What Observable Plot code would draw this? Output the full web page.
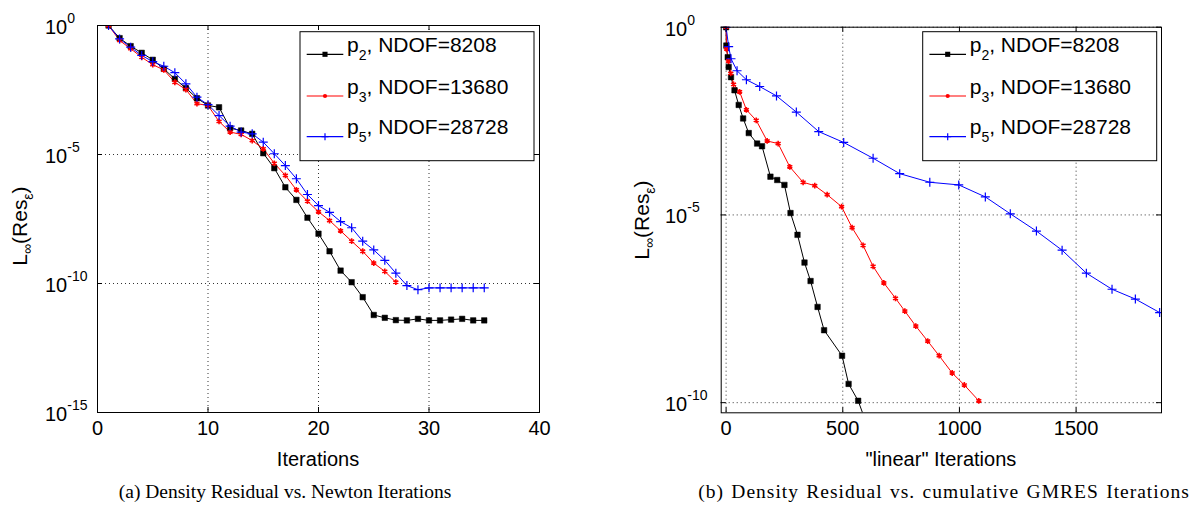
<!DOCTYPE html>
<html><head><meta charset="utf-8">
<script src="https://cdn.jsdelivr.net/npm/d3@7"></script>
<script src="https://cdn.jsdelivr.net/npm/@observablehq/plot@0.6"></script>
<style>
body{margin:0;background:#fff;}
#wrap{position:relative;width:1191px;height:517px;overflow:hidden;background:#fff;font-family:"Liberation Sans",Arial,sans-serif;}
.panel{position:absolute;top:0;}
.cap{position:absolute;top:482px;font-family:"Liberation Serif","Times New Roman",serif;font-size:19.5px;line-height:20px;white-space:nowrap;transform:translateX(-50%);color:#000;}
</style></head><body>
<div id="wrap">
<div id="pa" class="panel" style="left:0px"></div>
<div id="pb" class="panel" style="left:595px"></div>
<div class="cap" style="left:285px">(a) Density Residual vs. Newton Iterations</div>
<div class="cap" style="left:944px;letter-spacing:1px;word-spacing:1.5px">(b) Density Residual vs. cumulative GMRES Iterations</div>
</div>
<script>
// ---- data ----
const iterP2 = [1,2,3,4,5,6,7,8,9,10,11,12,13,14,15,16,17,18,19,20,21,22,23,24,25,26,27,28,29,30,31,32,33,34,35];
const iterP3 = [1,2,3,4,5,6,7,8,9,10,11,12,13,14,15,16,17,18,19,20,21,22,23,24,25,26,27];
const iterP5 = [1,2,3,4,5,6,7,8,9,10,11,12,13,14,15,16,17,18,19,20,21,22,23,24,25,26,27,28,29,30,31,32,33,34,35];
// log10 of the density residual
const logResP2 = [0,-0.49,-0.80,-1.06,-1.33,-1.68,-2.07,-2.43,-2.82,-3.10,-3.17,-3.98,-4.07,-4.20,-4.95,-5.53,-6.27,-6.76,-7.45,-8.07,-8.75,-9.50,-9.95,-10.53,-11.22,-11.33,-11.42,-11.43,-11.37,-11.43,-11.43,-11.40,-11.37,-11.43,-11.43];
const logResP3 = [0,-0.58,-0.90,-1.23,-1.52,-1.72,-2.20,-2.48,-3.03,-3.10,-3.72,-4.13,-4.22,-4.46,-4.78,-5.34,-5.81,-6.37,-6.81,-7.22,-7.56,-7.96,-8.36,-8.75,-9.21,-9.53,-9.95];
const logResP5 = [0,-0.52,-0.84,-1.16,-1.40,-1.58,-1.83,-2.26,-2.78,-3.07,-3.49,-3.90,-4.13,-4.20,-4.52,-4.97,-5.43,-5.94,-6.55,-6.98,-7.24,-7.60,-7.84,-8.36,-8.70,-9.10,-9.60,-10.08,-10.24,-10.17,-10.17,-10.17,-10.17,-10.17,-10.17];
// cumulative GMRES ("linear") iterations
const gmresP2 = [0,1,7,11,21,36,54,73,97,133,154,190,219,250,276,306,336,362,392,420,497,525,566,600];
const gmresP3 = [0,2,10,20,32,58,87,129,176,223,273,330,380,433,495,540,587,630,676,726,766,813,864,913,969,1021,1083];
const gmresP5 = [0,11,21,47,87,144,216,301,397,504,630,744,873,997,1111,1218,1330,1440,1544,1654,1754,1858];

const seriesSub = ["2","3","5"];
const seriesNdof = ["8208","13680","28728"];
const seriesColors = ["#000000","#ff0000","#0000ff"];
const xTicksA = [0,10,20,30,40];
const xTicksB = [0,500,1000,1500];
const yExpA = [0,-5,-10,-15];
const yExpB = [0,-5,-10];

const logs = [logResP2, logResP3, logResP5];
const rowsA = [iterP2, iterP3, iterP5].map((it,k)=>it.map((x,i)=>({x, y: Math.pow(10, logs[k][i])})));
const rowsB = [gmresP2, gmresP3, gmresP5].map((g,k)=>g.map((x,i)=>({x, y: Math.pow(10, logs[k][i])})));

const markerSpec = [
  {symbol:"square", fill:"#000", stroke:"#000", strokeWidth:0.5, r:3.1},
  {symbol:"asterisk", fill:"none", stroke:"#ff0000", strokeWidth:1.6, r:2.7},
  {symbol:"plus", fill:"none", stroke:"#0000ff", strokeWidth:1.2, r:3.0}
];
const FONT = "Liberation Sans, Arial, sans-serif";

function makePanel(el, cfg){
  const {width,height,ml,mr,mt,mb,xDomain,yDomain,xTicks,yExp,rows} = cfg;
  const yTicks = yExp.map(e=>Math.pow(10,e));
  const pw = width-ml-mr, ph = height-mt-mb;
  const gridStyle = {stroke:"#000", strokeOpacity:0.8, strokeWidth:1, strokeDasharray:"1,3"};
  const marks = [
    Plot.gridX({ticks:xTicks, ...gridStyle}),
    Plot.gridY({ticks:yTicks, ...gridStyle}),
    ...rows.map((r,k)=>Plot.line(r,{x:"x",y:"y",stroke:seriesColors[k],strokeWidth:1,clip:true})),
    ...rows.map((r,k)=>Plot.dot(r,{x:"x",y:"y",...markerSpec[k],clip:true})),
    Plot.tickX(xTicks,{x:d=>d,stroke:"#000",insetTop:ph-5}),
    Plot.tickX(xTicks,{x:d=>d,stroke:"#000",insetBottom:ph-5}),
    Plot.tickY(yTicks,{y:d=>d,stroke:"#000",insetRight:pw-5}),
    Plot.tickY(yTicks,{y:d=>d,stroke:"#000",insetLeft:pw-5}),
    Plot.axisX({ticks:xTicks, tickSize:0, tickPadding:8, label:null, fontSize:20, fill:"#000", tickFormat:d=>String(d)}),
    Plot.frame({stroke:"#000", strokeWidth:1})
  ];
  const p = Plot.plot({
    width, height, marginLeft:ml, marginRight:mr, marginTop:mt, marginBottom:mb,
    x:{domain:xDomain},
    y:{type:"log", domain:yDomain, axis:null},
    style:{fontFamily:FONT, fontSize:"20px", color:"#000", background:"#fff", overflow:"visible"},
    marks
  });
  el.appendChild(p);
  const svg = d3.select(p);
  const sy = p.scale("y");
  // y tick labels 10^k
  yExp.forEach(e=>{
    const yy = sy.apply(Math.pow(10,e));
    const t = svg.append("text").attr("x", cfg.yLabX).attr("y", yy+9).attr("text-anchor","start")
      .attr("font-size",20).attr("fill","#000").attr("font-family",FONT);
    t.append("tspan").text("10");
    t.append("tspan").attr("font-size",14).attr("dy",-11).text(e===0?"0":"-"+(-e));
  });
  // y axis title
  const tt = svg.append("text").attr("transform",`translate(${cfg.titleX},${cfg.titleY}) rotate(-90)`)
    .attr("text-anchor","middle").attr("font-size",21).attr("fill","#000").attr("font-family",FONT);
  tt.append("tspan").text("L");
  tt.append("tspan").attr("font-size",14).attr("dy",5).text("\u221E");
  tt.append("tspan").attr("dy",-5).text("(Res");
  tt.append("tspan").attr("font-size",14).attr("dy",6).text("\u03B5");
  tt.append("tspan").attr("dy",-6).text(")");
  // x axis title
  svg.append("text").attr("x", ml+pw/2).attr("y", 466).attr("text-anchor","middle")
    .attr("font-size",20).attr("fill","#000").attr("font-family",FONT).text(cfg.xTitle);
  // legend
  const lx = cfg.legX, ly = cfg.legY, lw = 234, lh = 129;
  const lg = svg.append("g");
  lg.append("rect").attr("x",lx).attr("y",ly).attr("width",lw).attr("height",lh).attr("fill","#fff").attr("stroke","#000");
  const rowY = [22.6, 64.3, 105];
  const legSym = [d3.symbolSquare, d3.symbolCircle];
  const legSize = [26, 14];
  seriesSub.forEach((s,k)=>{
    const y = ly+rowY[k];
    lg.append("line").attr("x1",lx+6.7).attr("x2",lx+43.3).attr("y1",y).attr("y2",y).attr("stroke",seriesColors[k]).attr("stroke-width",1.2);
    if(k<2){
      lg.append("path").attr("d",d3.symbol(legSym[k],legSize[k])()).attr("transform",`translate(${lx+25},${y})`).attr("fill",seriesColors[k]);
    } else {
      lg.append("path").attr("d","M-3.5,0H3.5M0,-3.5V3.5").attr("transform",`translate(${lx+25},${y})`).attr("stroke",seriesColors[k]).attr("stroke-width",1.2);
    }
    const t = lg.append("text").attr("x",lx+47).attr("y",y-2.5).attr("text-anchor","start").attr("font-size",21).attr("fill","#000").attr("font-family",FONT);
    t.append("tspan").text("p");
    t.append("tspan").attr("font-size",14).attr("dy",8).text(s);
    t.append("tspan").attr("dy",-8).text(", NDOF="+seriesNdof[k]);
  });
  return p;
}

makePanel(document.getElementById("pa"), {
  width:595, height:465, ml:97, mr:56, mt:25, mb:53,
  xDomain:[0,40], yDomain:[1e-15,1], xTicks:xTicksA, yExp:yExpA, rows:rowsA,
  yLabX:45, titleX:27, titleY:226, xTitle:"Iterations", legX:300, legY:31.7
});
makePanel(document.getElementById("pb"), {
  width:596, height:465, ml:125.7, mr:30, mt:26.7, mb:52.7,
  xDomain:[-21,1866], yDomain:[Math.pow(10,-10.27),1], xTicks:xTicksB, yExp:yExpB, rows:rowsB,
  yLabX:70, titleX:54, titleY:220, xTitle:"\"linear\" Iterations", legX:327.7, legY:31.7
});
</script>
</body></html>
